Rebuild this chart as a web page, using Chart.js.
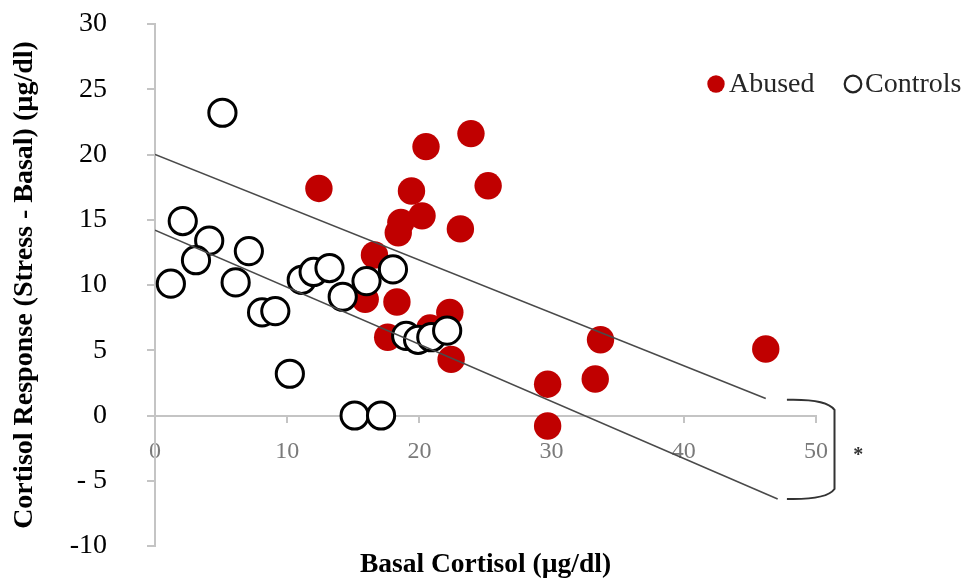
<!DOCTYPE html>
<html><head><meta charset="utf-8">
<script src="https://cdn.jsdelivr.net/npm/chart.js@4/dist/chart.umd.min.js"></script>
<style>html,body{margin:0;padding:0;background:#fff;}#wrap{width:969px;height:581px;}</style>
</head><body><div id="wrap"><canvas id="c" width="969" height="581"></canvas></div>
<script>
// ---- data ----
const seriesNames = ['Abused', 'Controls'];
const abusedX = [12.4, 20.5, 23.9, 25.2, 19.4, 20.2, 18.6, 18.4, 23.1, 16.6, 15.9, 18.3, 22.3, 17.6, 22.4, 20.8, 33.7, 33.3, 29.7, 29.7, 46.2];
const abusedY = [17.4, 20.6, 21.6, 17.6, 17.2, 15.3, 14.8, 14.0, 14.3, 12.3, 8.9, 8.7, 7.9, 6.0, 4.3, 6.7, 5.8, 2.8, 2.4, -0.8, 5.1];
const controlsX = [5.1, 2.1, 4.1, 3.1, 7.1, 1.2, 6.1, 8.1, 9.1, 10.2, 11.1, 12.0, 13.2, 14.2, 16.0, 18.0, 15.1, 17.1, 19.0, 19.9, 20.9, 22.1];
const controlsY = [23.2, 14.9, 13.4, 11.9, 12.6, 10.1, 10.2, 7.9, 8.0, 3.2, 10.4, 11.0, 11.3, 9.1, 10.3, 11.2, 0.0, 0.0, 6.1, 5.8, 6.0, 6.5];
const upperFitX = [0, 46.2];
const upperFitY = [20.0, 1.3];
const lowerFitX = [0, 47.1];
const lowerFitY = [14.2, -6.4];
const xTicks = [0, 10, 20, 30, 40, 50];
const yTicks = [-10, -5, 0, 5, 10, 15, 20, 25, 30];
const yTickLabels = ['-10', '- 5', '0', '5', '10', '15', '20', '25', '30'];
const xTitle = 'Basal Cortisol (µg/dl)';
const yTitle = 'Cortisol Response (Stress - Basal) (µg/dl)';
const sigMark = '*';

const toPts = (xs, ys) => xs.map((x, i) => ({x: x, y: ys[i]}));
const SERIF = '"Liberation Serif", "Times New Roman", serif';
const AXIS = '#c4c4c4';

const extras = {
  id: 'extras',
  afterDraw(chart) {
    const ctx = chart.ctx;
    const xs = chart.scales.x, ys = chart.scales.y;
    ctx.save();
    // legend
    const ly = 84;
    ctx.fillStyle = '#c00000';
    ctx.beginPath(); ctx.arc(716, ly, 8.7, 0, Math.PI * 2); ctx.fill();
    ctx.strokeStyle = '#222'; ctx.lineWidth = 2.2;
    ctx.beginPath(); ctx.arc(853, ly, 8.3, 0, Math.PI * 2); ctx.stroke();
    ctx.fillStyle = '#262626';
    ctx.font = '28px ' + SERIF;
    ctx.textBaseline = 'middle'; ctx.textAlign = 'left';
    ctx.fillText(seriesNames[0], 729, ly + 1);
    ctx.fillText(seriesNames[1], 865, ly + 1);
    // bracket
    const x0 = xs.getPixelForValue(47.8), x1 = xs.getPixelForValue(51.4);
    const yT = ys.getPixelForValue(1.2), yB = ys.getPixelForValue(-6.4);
    ctx.strokeStyle = '#333'; ctx.lineWidth = 2;
    ctx.beginPath();
    ctx.moveTo(x0, yT);
    ctx.quadraticCurveTo(x1 - 8, yT - 1, x1, yT + 10);
    ctx.lineTo(x1, yB - 10);
    ctx.quadraticCurveTo(x1 - 8, yB + 1, x0, yB);
    ctx.stroke();
    ctx.fillStyle = '#333';
    ctx.font = 'bold 20px ' + SERIF;
    ctx.textAlign = 'center';
    ctx.fillText(sigMark, xs.getPixelForValue(53.2), ys.getPixelForValue(-3.1));
    ctx.restore();
  }
};

new Chart(document.getElementById('c'), {
  type: 'scatter',
  data: {
    datasets: [
      {label: 'fit1', data: toPts(upperFitX, upperFitY), showLine: true, borderColor: '#4a4a4a', borderWidth: 1.6, pointRadius: 0, fill: false, order: 0},
      {label: 'fit2', data: toPts(lowerFitX, lowerFitY), showLine: true, borderColor: '#4a4a4a', borderWidth: 1.6, pointRadius: 0, fill: false, order: 1},
      {label: seriesNames[1], data: toPts(controlsX, controlsY), pointRadius: 13.6, pointBorderWidth: 3, pointBackgroundColor: '#ffffff', pointBorderColor: '#000000', order: 2},
      {label: seriesNames[0], data: toPts(abusedX, abusedY), pointRadius: 13.7, pointBorderWidth: 0, pointBackgroundColor: '#c00000', pointBorderColor: '#c00000', order: 3}
    ]
  },
  options: {
    responsive: false,
    animation: false,
    devicePixelRatio: 1,
    layout: {padding: {top: 24, right: 153, left: 0, bottom: 0}},
    plugins: {
      legend: {display: false},
      tooltip: {enabled: false},
      title: {
        display: true, position: 'bottom', fullSize: false, text: xTitle, color: '#000',
        font: {family: SERIF, size: 27.5, weight: 'bold', lineHeight: 1.2},
        padding: {top: 2, bottom: 0}
      }
    },
    scales: {
      x: {
        type: 'linear', min: 0, max: 50,
        position: {y: 0},
        afterBuildTicks: s => { s.ticks = xTicks.map(v => ({value: v})); },
        grid: {drawOnChartArea: false, drawTicks: true, tickLength: 6, color: AXIS, lineWidth: 2},
        border: {color: AXIS, width: 2},
        ticks: {color: '#7a7a7a', font: {family: SERIF, size: 24}, padding: 16, maxRotation: 0}
      },
      y: {
        type: 'linear', min: -10, max: 30,
        afterBuildTicks: s => { s.ticks = yTicks.map(v => ({value: v})); },
        afterFit: s => { s.width = 155; s.paddingTop = 0; s.paddingBottom = 0; },
        grid: {drawOnChartArea: false, drawTicks: true, tickLength: 8, color: AXIS, lineWidth: 2},
        border: {color: AXIS, width: 2},
        ticks: {color: '#000', font: {family: SERIF, size: 28}, padding: 40,
          callback: (v) => { const i = yTicks.indexOf(v); return i >= 0 ? yTickLabels[i] : ''; }},
        title: {display: true, text: yTitle, color: '#000', font: {family: SERIF, size: 28, weight: 'bold'}, padding: {top: 8, bottom: 0}}
      }
    }
  },
  plugins: [extras]
});
</script>
</body></html>
